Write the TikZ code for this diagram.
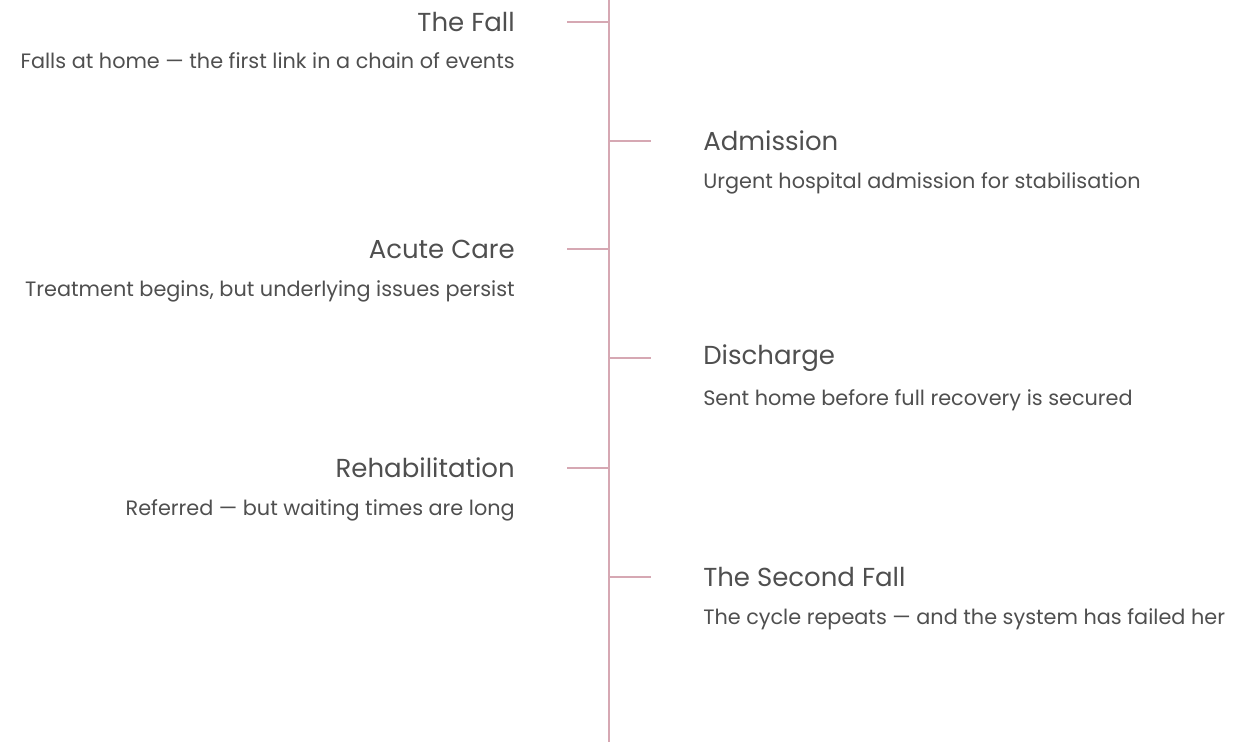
\documentclass[tikz,border=0pt]{standalone}
\usepackage{fontspec}
\setmainfont{Poppins}
\usetikzlibrary{positioning}

\definecolor{spine}{HTML}{D6A8B3}
\definecolor{ink}{HTML}{4F4F4F}

\tikzset{
  stage/.style={font=\fontsize{19.5}{23}\selectfont, text=ink, inner sep=0pt},
  note/.style={font=\fontsize{15.6}{18}\selectfont, text=ink, inner sep=0pt},
  tick/.style={draw=spine, line width=1.4pt}
}

\begin{document}
\begin{tikzpicture}[x=0.75pt, y=-0.75pt]
    \useasboundingbox (0,0) rectangle (1233,742);
    % Spine
    \coordinate (top) at (609,0);
    \coordinate (bottom) at (609,742);
    \draw[tick] (top) -- (bottom);

    % Left-hand stages
    \foreach \y/\name/\title/\text in {
        22/fall/The Fall/Falls at home --- the first link in a chain of events,
        249/acute/Acute Care/{Treatment begins, but underlying issues persist},
        468/rehab/Rehabilitation/Referred --- but waiting times are long}{
        \coordinate (\name-on) at (609,\y);
        \coordinate (\name-off) at (567,\y);
        \draw[tick] (\name-off) -- (\name-on);
        \node[stage, anchor=east] (\name) at (515,\y) {\title};
        \node[note, anchor=base east] (\name-note) at (515,\y+47) {\text};
    }

    % Right-hand stages
    \foreach \y/\name/\title/\text in {
        141/admit/Admission/Urgent hospital admission for stabilisation,
        358/discharge/Discharge/Sent home before full recovery is secured,
        577/second/The Second Fall/The cycle repeats --- and the system has failed her}{
        \coordinate (\name-on) at (609,\y);
        \coordinate (\name-off) at (651,\y);
        \draw[tick] (\name-on) -- (\name-off);
        \node[stage, anchor=west] (\name) at (703,\y) {\title};
        \node[note, anchor=base west] (\name-note) at (703,\y+47) {\text};
    }
\end{tikzpicture}
\end{document}
